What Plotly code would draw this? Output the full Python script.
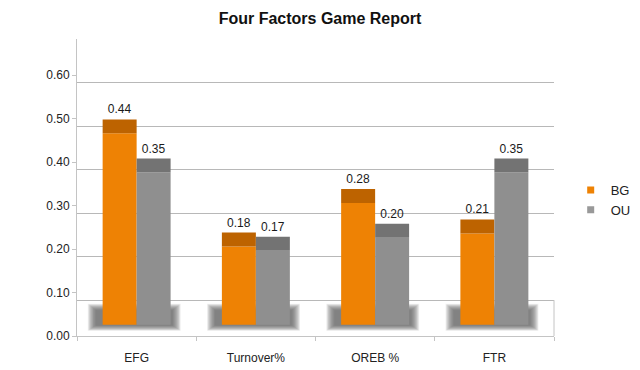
import plotly.graph_objects as go

categories = ["EFG", "Turnover%", "OREB %", "FTR"]
bg_values = [0.44, 0.18, 0.28, 0.21]
ou_values = [0.35, 0.17, 0.20, 0.35]
series_names = ["BG", "OU"]
y_tick_values = [0.0, 0.1, 0.2, 0.3, 0.4, 0.5, 0.6]
y_tick_labels = ["0.00", "0.10", "0.20", "0.30", "0.40", "0.50", "0.60"]

# pseudo-3D styling constants
Y_TOP = 0.683          # front axis top
WALL_SHIFT = 0.0175    # back wall gridlines appear lower than front ticks
BAR_SHIFT = 0.026      # bars sit between front and back
CAP_DEPTH = 0.032      # visible top face of the 3D bars

ORANGE = "#EE8204"
ORANGE_CAP = "#BD6300"
GREY = "#8F8F8F"
GREY_CAP = "#737373"
FONT = "Liberation Sans, Arial, sans-serif"
PAGE_OFFSET = 8        # default body margin of the html page

fig = go.Figure()

def add_series(name, vals, front, cap):
    fig.add_trace(go.Bar(
        x=categories, y=vals, name=name, offsetgroup=name,
        marker=dict(color=front, line=dict(width=0)),
        yaxis="y3", showlegend=False, hoverinfo="skip"))
    fig.add_trace(go.Bar(
        x=categories, y=[CAP_DEPTH] * len(vals), base=vals, name=name,
        offsetgroup=name,
        marker=dict(color=cap, line=dict(width=0)),
        text=[f"{v:.2f}" for v in vals], textposition="outside",
        textfont=dict(size=12, color="#1a1a1a", family=FONT),
        cliponaxis=False, yaxis="y3", showlegend=False))

add_series(series_names[0], bg_values, ORANGE, ORANGE_CAP)
add_series(series_names[1], ou_values, GREY, GREY_CAP)

# legend entries (small square markers)
for name, col in zip(series_names, [ORANGE, "#999999"]):
    fig.add_trace(go.Scatter(x=[None], y=[None], mode="markers", name=name,
                             marker=dict(symbol="square", size=7, color=col)))

# soft floor shadows under each bar pair (many faint layers = blur)
shapes = []
n_layers = 20
for i, _ in enumerate(categories):
    for k in range(n_layers):
        t = k / (n_layers - 1)
        hw = 0.38 - 0.07 * t
        y0 = 0.012 + 0.013 * t
        y1 = 0.074 - 0.015 * t
        shapes.append(dict(type="rect", xref="x", yref="y",
                           x0=i - 0.03 - hw, x1=i - 0.03 + hw + 0.02, y0=y0, y1=y1,
                           fillcolor="#666666", opacity=0.07, line=dict(width=0),
                           layer="below"))
# floor right edge
shapes.append(dict(type="line", xref="paper", yref="y2", x0=1, x1=1,
                   y0=WALL_SHIFT, y1=0.1, line=dict(color="#c4c4c4", width=1)))

fig.update_layout(
    width=640, height=370,
    margin=dict(l=77 - PAGE_OFFSET, r=86 + PAGE_OFFSET,
                t=39 - PAGE_OFFSET, b=34 + PAGE_OFFSET, autoexpand=False),
    paper_bgcolor="white", plot_bgcolor="white",
    barmode="group", bargap=0.43, bargroupgap=0,
    title=dict(text="<b>Four Factors Game Report</b>", x=(320 - PAGE_OFFSET) / 640,
               xanchor="center", y=1 - (18 - PAGE_OFFSET) / 370, yanchor="middle",
               font=dict(family=FONT, size=16, color="#111111")),
    font=dict(family=FONT, size=12, color="#222222"),
    xaxis=dict(categoryorder="array", categoryarray=categories,
               range=[-0.5, len(categories) - 0.5], automargin=False,
               showline=True, linecolor="#c4c4c4", linewidth=1,
               ticks="outside", tickson="boundaries", ticklen=4,
               tickcolor="#c4c4c4", ticklabelstandoff=11,
               showgrid=False, zeroline=False,
               tickfont=dict(size=12, color="#222222")),
    yaxis=dict(range=[0, Y_TOP], tickvals=y_tick_values, ticktext=y_tick_labels,
               automargin=False,
               showline=True, linecolor="#c4c4c4", linewidth=1,
               ticks="outside", ticklen=4, tickcolor="#c4c4c4",
               showgrid=False, zeroline=False,
               tickfont=dict(size=12, color="#222222")),
    yaxis2=dict(overlaying="y", range=[WALL_SHIFT, Y_TOP + WALL_SHIFT],
                automargin=False,
                tickvals=[0.1, 0.2, 0.3, 0.4, 0.5, 0.6, 0.7],
                showticklabels=False, showgrid=True, gridcolor="#b8b8b8",
                gridwidth=1, zeroline=False, showline=False, ticks=""),
    yaxis3=dict(overlaying="y", range=[-BAR_SHIFT, Y_TOP - BAR_SHIFT],
                automargin=False,
                showticklabels=False, showgrid=False, zeroline=False,
                showline=False, ticks=""),
    legend=dict(x=1.035, xanchor="left", y=0.458, yanchor="middle",
                font=dict(size=13, color="#222222"), itemwidth=30,
                bgcolor="rgba(0,0,0,0)"),
    shapes=shapes,
)

fig.write_html("out.html")
